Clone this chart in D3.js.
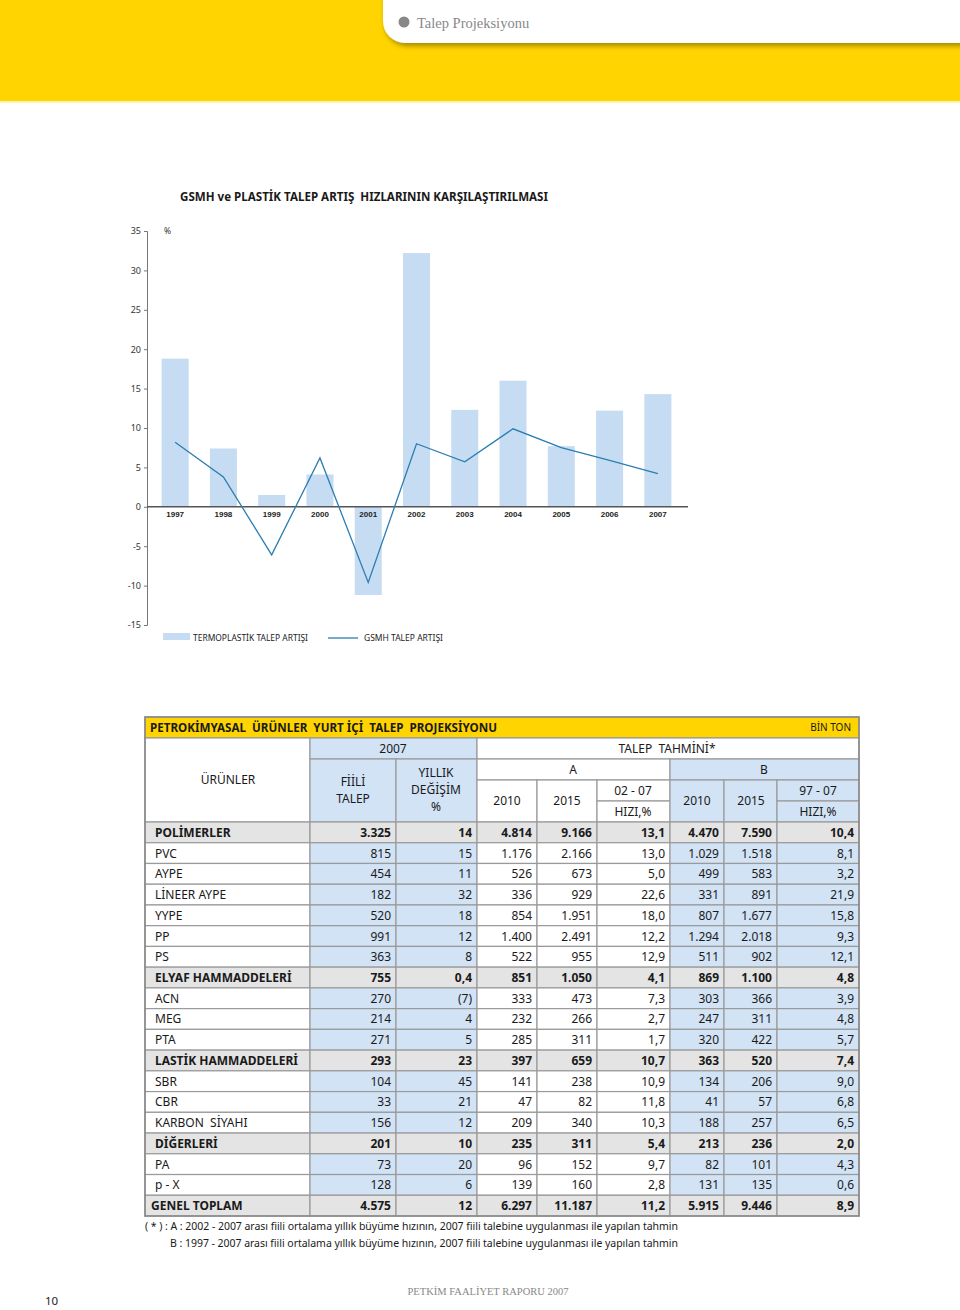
<!DOCTYPE html>
<html>
<head>
<meta charset="utf-8">
<script src="https://cdn.jsdelivr.net/npm/d3@7"></script>
<style>
  body { margin: 0; background: #fff; }
  svg { display: block; font-family: "Noto Sans", "Open Sans", sans-serif; }
  text { white-space: pre; }
</style>
</head>
<body>
<div id="page"></div>
<script>
// --- chart data ---
const years = ["1997", "1998", "1999", "2000", "2001", "2002", "2003", "2004", "2005", "2006", "2007"];
const termoplastik = [18.8, 7.4, 1.5, 4.1, -11.2, 32.2, 12.3, 16.0, 7.7, 12.2, 14.3];
const gsmh = [8.2, 3.8, -6.1, 6.2, -9.6, 8.0, 5.7, 9.9, 7.5, 5.9, 4.2];
const yTicks = [35, 30, 25, 20, 15, 10, 5, 0, -5, -10, -15];

// --- table data ---
const urunler = ["POLİMERLER", "PVC", "AYPE", "LİNEER AYPE", "YYPE", "PP", "PS", "ELYAF HAMMADDELERİ", "ACN", "MEG", "PTA",
  "LASTİK HAMMADDELERİ", "SBR", "CBR", "KARBON  SİYAHI", "DİĞERLERİ", "PA", "p - X", "GENEL TOPLAM"];
const grupSatiri = [1, 0, 0, 0, 0, 0, 0, 1, 0, 0, 0, 1, 0, 0, 0, 1, 0, 0, 1];
const fiiliTalep = ["3.325", "815", "454", "182", "520", "991", "363", "755", "270", "214", "271", "293", "104", "33", "156", "201", "73", "128", "4.575"];
const yillikDegisim = ["14", "15", "11", "32", "18", "12", "8", "0,4", "(7)", "4", "5", "23", "45", "21", "12", "10", "20", "6", "12"];
const a2010 = ["4.814", "1.176", "526", "336", "854", "1.400", "522", "851", "333", "232", "285", "397", "141", "47", "209", "235", "96", "139", "6.297"];
const a2015 = ["9.166", "2.166", "673", "929", "1.951", "2.491", "955", "1.050", "473", "266", "311", "659", "238", "82", "340", "311", "152", "160", "11.187"];
const aHizi = ["13,1", "13,0", "5,0", "22,6", "18,0", "12,2", "12,9", "4,1", "7,3", "2,7", "1,7", "10,7", "10,9", "11,8", "10,3", "5,4", "9,7", "2,8", "11,2"];
const b2010 = ["4.470", "1.029", "499", "331", "807", "1.294", "511", "869", "303", "247", "320", "363", "134", "41", "188", "213", "82", "131", "5.915"];
const b2015 = ["7.590", "1.518", "583", "891", "1.677", "2.018", "902", "1.100", "366", "311", "422", "520", "206", "57", "257", "236", "101", "135", "9.446"];
const bHizi = ["10,4", "8,1", "3,2", "21,9", "15,8", "9,3", "12,1", "4,8", "3,9", "4,8", "5,7", "7,4", "9,0", "6,8", "6,5", "2,0", "4,3", "0,6", "8,9"];

const W = 960, H = 1310;
const YELLOW = "#ffd400", BAR = "#c6dcf2", LINE = "#2b7db2", BLUE = "#d2e3f5", GREY = "#e4e4e4", RULE = "#9a9a9a";

const svg = d3.select("#page").append("svg").attr("width", W).attr("height", H);

// header band
svg.append("rect").attr("x", 0).attr("y", 0).attr("width", W).attr("height", 101).attr("fill", YELLOW);
svg.append("rect").attr("x", 0).attr("y", 101).attr("width", W).attr("height", 2).attr("fill", "#fff3b0");
const defs = svg.append("defs");
const f = defs.append("filter").attr("id", "shadow").attr("x", "-10%").attr("y", "-50%").attr("width", "130%").attr("height", "220%");
f.append("feDropShadow").attr("dx", 2).attr("dy", 3).attr("stdDeviation", 2.5).attr("flood-color", "#6b5a00").attr("flood-opacity", 0.6);
svg.append("rect").attr("x", 383).attr("y", -24).attr("width", 620).attr("height", 67).attr("rx", 22)
  .attr("fill", "#fff").attr("filter", "url(#shadow)");
svg.append("circle").attr("cx", 404).attr("cy", 22).attr("r", 5.5).attr("fill", "#888");
svg.append("text").attr("x", 417).attr("y", 28).attr("font-family", "'Liberation Serif', 'DejaVu Serif', serif")
  .attr("font-size", 14.5).attr("fill", "#888").text("Talep Projeksiyonu");

// ---------- chart ----------
svg.append("text").attr("x", 180).attr("y", 201).attr("font-weight", "bold").attr("font-size", 12)
  .attr("fill", "#1a1a1a").attr("textLength", 368).attr("lengthAdjust", "spacingAndGlyphs")
  .text("GSMH ve PLASTİK TALEP ARTIŞ  HIZLARININ KARŞILAŞTIRILMASI");

const x = d3.scaleBand().domain(years).range([151, 682]).paddingInner(0.44).paddingOuter(0.22);
const y = d3.scaleLinear().domain([-15, 35]).range([625, 231]);

const chart = svg.append("g");

chart.selectAll("rect.bar").data(years).join("rect").attr("class", "bar")
  .attr("x", d => x(d))
  .attr("width", x.bandwidth())
  .attr("y", (d, i) => y(Math.max(0, termoplastik[i])))
  .attr("height", (d, i) => Math.abs(y(termoplastik[i]) - y(0)))
  .attr("fill", BAR);

const yAxis = chart.append("g").attr("transform", "translate(147,0)")
  .call(d3.axisLeft(y).tickValues(yTicks).tickSize(3).tickSizeOuter(3).tickPadding(3)
    .tickFormat(d => String(d)));
yAxis.select(".domain").attr("stroke", "#777");
yAxis.selectAll(".tick line").attr("stroke", "#777");
yAxis.selectAll(".tick text").attr("font-family", "'Noto Sans', sans-serif").attr("font-size", 9).attr("fill", "#333");

chart.append("text").attr("x", 164).attr("y", 234).attr("font-size", 8.5).attr("fill", "#333").text("%");

chart.append("line").attr("x1", 147).attr("x2", 688).attr("y1", y(0)).attr("y2", y(0))
  .attr("stroke", "#555").attr("stroke-width", 1.5);

chart.selectAll("text.year").data(years).join("text").attr("class", "year")
  .attr("x", d => x(d) + x.bandwidth() / 2)
  .attr("y", y(0) + 10)
  .attr("text-anchor", "middle")
  .attr("font-family", "'Liberation Sans', Arial, sans-serif")
  .attr("font-weight", "bold").attr("font-size", 8).attr("fill", "#222")
  .text(d => d);

const line = d3.line().x((d, i) => x(years[i]) + x.bandwidth() / 2).y(d => y(d));
chart.append("path").datum(gsmh).attr("d", line).attr("fill", "none")
  .attr("stroke", LINE).attr("stroke-width", 1.3);

// legend
chart.append("rect").attr("x", 163).attr("y", 633).attr("width", 27).attr("height", 7).attr("fill", BAR);
chart.append("text").attr("x", 193).attr("y", 641).attr("font-size", 8.3).attr("fill", "#222")
  .attr("textLength", 115).attr("lengthAdjust", "spacingAndGlyphs").text("TERMOPLASTİK TALEP ARTIŞI");
chart.append("line").attr("x1", 328).attr("x2", 358).attr("y1", 638).attr("y2", 638).attr("stroke", LINE).attr("stroke-width", 1.3);
chart.append("text").attr("x", 364).attr("y", 641).attr("font-size", 8.3).attr("fill", "#222")
  .attr("textLength", 79).attr("lengthAdjust", "spacingAndGlyphs").text("GSMH TALEP ARTIŞI");

// ---------- table ----------
const edges = [145, 310, 396, 477, 537, 597, 670, 724, 777, 859];
const table = svg.append("g").attr("font-size", 12).attr("fill", "#1a1a1a");

function cell(x0, x1, y0, y1, fill) {
  table.append("rect").attr("x", x0).attr("y", y0).attr("width", x1 - x0).attr("height", y1 - y0)
    .attr("fill", fill).attr("stroke", RULE).attr("stroke-width", 1.2);
}
function label(tx, ty, t, opts = {}) {
  const el = table.append("text").attr("x", tx).attr("y", ty).attr("text-anchor", opts.anchor || "middle").text(t);
  if (opts.bold) el.attr("font-weight", "bold");
  if (opts.size) el.attr("font-size", opts.size);
  return el;
}

// title row
cell(145, 859, 717, 738, YELLOW);
label(150, 732, "PETROKİMYASAL  ÜRÜNLER  YURT İÇİ  TALEP  PROJEKSİYONU", { anchor: "start", bold: true, size: 12 })
  .attr("textLength", 347).attr("lengthAdjust", "spacingAndGlyphs");
label(851, 731, "BİN TON", { anchor: "end", size: 10 });

// header cells
cell(145, 310, 738, 822, "#fff");
cell(310, 477, 738, 759, BLUE);
cell(310, 396, 759, 822, BLUE);
cell(396, 477, 759, 822, BLUE);
cell(477, 859, 738, 759, "#fff");
cell(477, 670, 759, 780, "#fff");
cell(670, 859, 759, 780, BLUE);
cell(477, 537, 780, 822, "#fff");
cell(537, 597, 780, 822, "#fff");
cell(597, 670, 780, 801, "#fff");
cell(597, 670, 801, 822, "#fff");
cell(670, 724, 780, 822, BLUE);
cell(724, 777, 780, 822, BLUE);
cell(777, 859, 780, 801, BLUE);
cell(777, 859, 801, 822, BLUE);

label(228, 784, "ÜRÜNLER");
label(393, 753, "2007");
label(353, 786, "FİİLİ");
label(353, 803, "TALEP");
label(436, 777, "YILLIK");
label(436, 794, "DEĞİŞİM");
label(436, 811, "%");
label(667, 753, "TALEP  TAHMİNİ*");
label(573, 774, "A");
label(764, 774, "B");
label(507, 805, "2010");
label(567, 805, "2015");
label(633, 795, "02 - 07");
label(633, 816, "HIZI,%");
label(697, 805, "2010");
label(751, 805, "2015");
label(818, 795, "97 - 07");
label(818, 816, "HIZI,%");

// data rows
const rowY = d3.scaleBand().domain(d3.range(urunler.length)).range([822, 1216]);
const columns = [urunler, fiiliTalep, yillikDegisim, a2010, a2015, aHizi, b2010, b2015, bHizi];
const blueCols = [1, 2, 6, 7, 8];

const rows = table.selectAll("g.row").data(urunler).join("g").attr("class", "row")
  .attr("transform", (d, i) => `translate(0,${rowY(i)})`);

rows.each(function (d, i) {
  const g = d3.select(this);
  const bold = grupSatiri[i] === 1;
  const cells = columns.map((col, j) => ({ j, v: col[i] }));
  g.selectAll("rect").data(cells).join("rect")
    .attr("x", c => edges[c.j])
    .attr("width", c => edges[c.j + 1] - edges[c.j])
    .attr("height", rowY.bandwidth())
    .attr("fill", c => bold ? GREY : (blueCols.includes(c.j) ? BLUE : "#fff"))
    .attr("stroke", RULE).attr("stroke-width", 1.2);
  g.selectAll("text").data(cells).join("text")
    .attr("x", c => c.j === 0 ? (i === urunler.length - 1 ? 151 : 155) : edges[c.j + 1] - 5)
    .attr("y", rowY.bandwidth() / 2 + 4.5)
    .attr("text-anchor", c => c.j === 0 ? "start" : "end")
    .attr("font-weight", bold ? "bold" : "normal")
    .text(c => c.v);
});

// outer frame
table.append("rect").attr("x", 145).attr("y", 717).attr("width", 714).attr("height", 1216 - 717)
  .attr("fill", "none").attr("stroke", "#8a8a8a").attr("stroke-width", 1.6);

// footnote
table.append("text").attr("x", 145).attr("y", 1230).attr("font-size", 10.5)
  .attr("textLength", 533).attr("lengthAdjust", "spacing")
  .text("( * ) : A : 2002 - 2007 arası fiili ortalama yıllık büyüme hızının, 2007 fiili talebine uygulanması ile yapılan tahmin");
table.append("text").attr("x", 170).attr("y", 1247).attr("font-size", 10.5)
  .attr("textLength", 508).attr("lengthAdjust", "spacing")
  .text("B : 1997 - 2007 arası fiili ortalama yıllık büyüme hızının, 2007 fiili talebine uygulanması ile yapılan tahmin");

// footer
svg.append("text").attr("x", 488).attr("y", 1295).attr("text-anchor", "middle")
  .attr("font-family", "'Liberation Serif', 'DejaVu Serif', serif").attr("font-size", 10.5).attr("fill", "#888")
  .text("PETKİM FAALİYET RAPORU 2007");
svg.append("text").attr("x", 45).attr("y", 1305).attr("font-size", 11.5).attr("fill", "#222").text("10");
</script>
</body>
</html>
